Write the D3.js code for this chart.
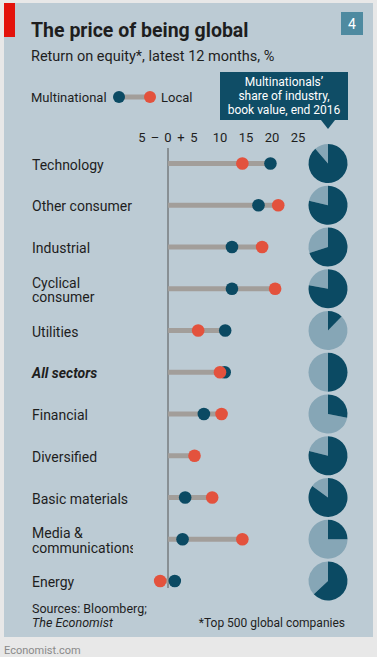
<!DOCTYPE html>
<html><head><meta charset="utf-8">
<script src="https://cdn.jsdelivr.net/npm/d3@7"></script>
<style>
html,body{margin:0;padding:0;background:#e8e8e8;}
svg{display:block;font-family:Roboto, "Noto Sans", sans-serif;}
</style></head>
<body>
<svg id="chart" width="377" height="657"></svg>
<script>
const categories = ["Technology","Other consumer","Industrial","Cyclical consumer","Utilities","All sectors","Financial","Diversified","Basic materials","Media & communications","Energy"];
const labelLines = [["Technology"],["Other consumer"],["Industrial"],["Cyclical","consumer"],["Utilities"],["All sectors"],["Financial"],["Diversified"],["Basic materials"],["Media &","communications"],["Energy"]];
const multinational = [19.7,17.4,12.3,12.3,11.0,10.9,6.9,null,3.3,2.8,1.3];
const local = [14.3,21.2,18.1,20.6,5.8,10.0,10.3,5.1,8.5,14.3,-1.5];
const share = [0.887,0.787,0.70,0.779,0.123,0.50,0.28,0.79,0.85,0.25,0.63];
const tickValues = [-5,0,5,10,15,20,25];
const tickLabels = ["5","0","5","10","15","20","25"];

const C = {bg:"#bccbd4", dark:"#0b4a63", light:"#86a6b6", red:"#e3523d", bar:"#a29e9a", text:"#1e1e1e"};
const svg = d3.select("#chart");

svg.append("defs").append("clipPath").attr("id","labclip")
  .append("rect").attr("x",0).attr("y",0).attr("width",133).attr("height",657);

// panel
svg.append("rect").attr("x",4).attr("y",3).attr("width",369).attr("height",634).attr("fill",C.bg);
svg.append("rect").attr("x",4).attr("y",3).attr("width",11).attr("height",34).attr("fill","#e3120b");
svg.append("text").attr("x",4).attr("y",654).attr("fill","#8a8a8a").attr("font-size",11).text("Economist.com");

// title
svg.append("text").attr("x",31).attr("y",37).attr("font-size",19.5).attr("font-weight","bold").attr("fill",C.text).text("The price of being global");
svg.append("text").attr("x",31).attr("y",61).attr("font-size",14.5).attr("fill",C.text).text("Return on equity*, latest 12 months, %");
svg.append("rect").attr("x",341).attr("y",12).attr("width",22).attr("height",23).attr("fill","#4e8aa0");
svg.append("text").attr("x",352).attr("y",29).attr("text-anchor","middle").attr("font-size",14).attr("fill","#fff").text("4");

// legend
svg.append("text").attr("x",31).attr("y",102).attr("font-size",13).attr("fill",C.text).text("Multinational");
svg.append("rect").attr("x",119).attr("y",94.5).attr("width",31).attr("height",5).attr("fill",C.bar);
svg.append("circle").attr("cx",119).attr("cy",97).attr("r",6).attr("fill",C.dark);
svg.append("circle").attr("cx",150).attr("cy",97).attr("r",6).attr("fill",C.red);
svg.append("text").attr("x",161).attr("y",102).attr("font-size",13).attr("fill",C.text).text("Local");

// callout
svg.append("rect").attr("x",220).attr("y",72).attr("width",128).attr("height",48).attr("fill","#0f4d66");
svg.append("path").attr("d","M321,120 L335,120 L328,129 Z").attr("fill","#0f4d66");
const callout = svg.append("text").attr("text-anchor","middle").attr("font-size",12).attr("fill","#fff");
["Multinationals\u2019","share of industry,","book value, end 2016"].forEach((t,i)=>{
  callout.append("tspan").attr("x",284).attr("y",86+i*14).text(t);
});

// scales
const x = d3.scaleLinear().domain([0,25]).range([168,298]);
const y = d3.scalePoint().domain(categories).range([163.5,581]);

// ticks
const ticks = svg.append("g");
tickValues.forEach((v,i)=>{
  ticks.append("text").attr("x",x(v)).attr("y",142).attr("text-anchor","middle").attr("font-size",13).attr("fill",C.text).text(tickLabels[i]);
});
ticks.append("text").attr("x",(x(-5)+x(0))/2).attr("y",142).attr("text-anchor","middle").attr("font-size",13).attr("fill",C.text).text("\u2013");
ticks.append("text").attr("x",(x(0)+x(5))/2).attr("y",142).attr("text-anchor","middle").attr("font-size",13).attr("fill",C.text).text("+");

// zero line
svg.append("line").attr("x1",x(0)).attr("x2",x(0)).attr("y1",148).attr("y2",588).attr("stroke","#555").attr("stroke-width",1);

// rows
categories.forEach((c,i)=>{
  const cy = y(c);
  const lines = labelLines[i];
  const g = svg.append("g");
  const lt = g.append("g").attr("clip-path","url(#labclip)").append("text")
     .attr("font-size",14).attr("fill",C.text)
     .attr("font-weight",c==="All sectors"?"bold":"normal")
     .attr("font-style",c==="All sectors"?"italic":"normal");
  lines.forEach((l,j)=>{
    lt.append("tspan").attr("x",32).attr("y",cy+6+(j-(lines.length-1)/2)*14.5).text(l);
  });
  const vals = [multinational[i],local[i]].filter(v=>v!==null);
  const lo = Math.min(0,...vals), hi = Math.max(0,...vals);
  g.append("rect").attr("x",x(lo)).attr("y",cy-2.5).attr("width",x(hi)-x(lo)).attr("height",5).attr("fill",C.bar);
  const m = multinational[i], l = local[i];
  if (c==="All sectors") {
    if(m!==null) g.append("circle").attr("cx",x(m)).attr("cy",cy).attr("r",6.3).attr("fill",C.dark);
    g.append("circle").attr("cx",x(l)).attr("cy",cy).attr("r",6.3).attr("fill",C.red);
  } else {
    g.append("circle").attr("cx",x(l)).attr("cy",cy).attr("r",6.3).attr("fill",C.red);
    if(m!==null) g.append("circle").attr("cx",x(m)).attr("cy",cy).attr("r",6.3).attr("fill",C.dark);
  }
  // pie
  const pg = svg.append("g").attr("transform",`translate(328,${cy})`);
  const arc = d3.arc().innerRadius(0).outerRadius(19.5);
  const a = share[i]*2*Math.PI;
  pg.append("path").attr("d",arc({startAngle:a,endAngle:2*Math.PI})).attr("fill",C.light);
  pg.append("path").attr("d",arc({startAngle:0,endAngle:a})).attr("fill",C.dark);
});

// footer
const src = svg.append("text").attr("font-size",12.5).attr("fill",C.text);
src.append("tspan").attr("x",32).attr("y",613).text("Sources: Bloomberg;");
src.append("tspan").attr("x",32).attr("y",627).attr("font-style","italic").text("The Economist");
svg.append("text").attr("x",345).attr("y",627).attr("text-anchor","end").attr("font-size",12).attr("fill",C.text).text("*Top 500 global companies");
</script>
</body></html>
